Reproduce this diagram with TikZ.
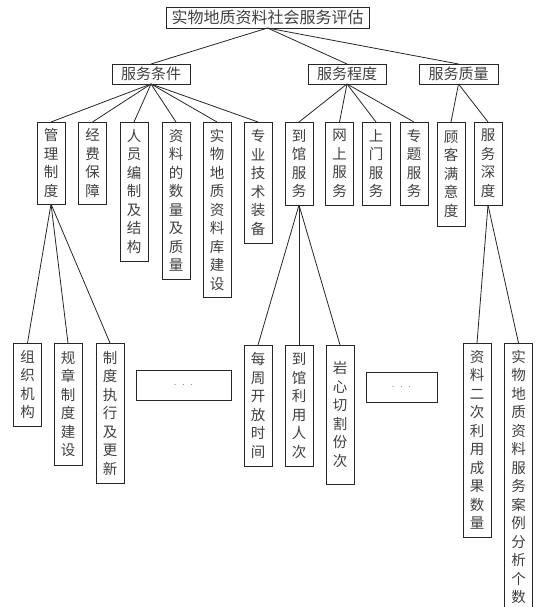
\documentclass[tikz,border=0pt]{standalone}
\usepackage{fontspec}
\newfontfamily\cjk{Noto Sans CJK SC}
\begin{document}
\begin{tikzpicture}[x=1pt,y=-1pt,
  every node/.style={inner sep=0pt,outer sep=0pt},
  hbox/.style={draw=black!85,line width=0.9pt,anchor=north,minimum height=20pt,
    text=black!75,font=\cjk\fontsize{15}{17}\selectfont},
  vbox/.style={draw=black!85,line width=0.9pt,anchor=north,minimum width=28pt,
    text=black!75,align=center,font=\cjk\fontsize{14.5}{18.5}\selectfont},
  dbox/.style={draw=black!85,line width=0.9pt,anchor=north,minimum height=30pt,
    text=black!60,font=\fontsize{10}{11}\selectfont},
  link/.style={draw=black!85,line width=0.8pt}]
\useasboundingbox (0,0) rectangle (536,607);
% level 1
\node[hbox,minimum width=203pt,minimum height=21pt,font=\cjk\fontsize{16}{18}\selectfont] (root) at (267.5,7) {实物地质资料社会服务评估};
% level 2
\node[hbox,minimum width=78pt] (tc1) at (151,64) {服务条件};
\node[hbox,minimum width=78pt] (tc2) at (347,64) {服务程度};
\node[hbox,minimum width=79pt] (tc3) at (458.5,64) {服务质量};
% level 3
\node[vbox,minimum height=82pt] (a1) at (51,122) {管\\理\\制\\度};
\node[vbox,minimum height=82pt] (a2) at (92.5,122) {经\\费\\保\\障};
\node[vbox,minimum height=139pt] (a3) at (134,122) {人\\员\\编\\制\\及\\结\\构};
\node[vbox,minimum height=157pt] (a4) at (176,122) {资\\料\\的\\数\\量\\及\\质\\量};
\node[vbox,minimum height=175pt] (a5) at (217,122) {实\\物\\地\\质\\资\\料\\库\\建\\设};
\node[vbox,minimum height=121pt] (a6) at (258,122) {专\\业\\技\\术\\装\\备};
\node[vbox,minimum height=83pt] (b1) at (299,122) {到\\馆\\服\\务};
\node[vbox,minimum height=83pt] (b2) at (339.5,122) {网\\上\\服\\务};
\node[vbox,minimum height=83pt] (b3) at (376,122) {上\\门\\服\\务};
\node[vbox,minimum height=83pt] (b4) at (414,122) {专\\题\\服\\务};
\node[vbox,minimum height=104pt] (c1) at (451,122) {顾\\客\\满\\意\\度};
\node[vbox,minimum height=83pt] (c2) at (488,122) {服\\务\\深\\度};
% level 4
\node[vbox,minimum height=83pt] (d1) at (27.5,343) {组\\织\\机\\构};
\node[vbox,minimum height=122pt] (d2) at (68,343) {规\\章\\制\\度\\建\\设};
\node[vbox,minimum height=140pt] (d3) at (110,343) {制\\度\\执\\行\\及\\更\\新};
\node[dbox,minimum width=95pt] (dots1) at (183.5,370) {$\cdot\ \cdot\ \cdot$};
\node[vbox,minimum height=121pt] (e1) at (258,345) {每\\周\\开\\放\\时\\间};
\node[vbox,minimum height=121pt] (e2) at (299,345) {到\\馆\\利\\用\\人\\次};
\node[vbox,minimum height=139pt] (e3) at (340,345) {岩\\心\\切\\割\\份\\次};
\node[dbox,minimum width=71pt] (dots2) at (401.5,372) {$\cdot\ \cdot\ \cdot$};
\node[vbox,minimum height=194pt] (f1) at (477,343) {资\\料\\二\\次\\利\\用\\成\\果\\数\\量};
\node[vbox,minimum height=268pt] (f2) at (518.5,343) {实\\物\\地\\质\\资\\料\\服\\务\\案\\例\\分\\析\\个\\数};
% connectors
\foreach \c in {tc1,tc2,tc3} \draw[link] (root.south) -- (\c.north);
\foreach \c in {a1,a2,a3,a4,a5,a6} \draw[link] (tc1.south) -- (\c.north);
\foreach \c in {b1,b2,b3,b4} \draw[link] (tc2.south) -- (\c.north);
\foreach \c in {c1,c2} \draw[link] (tc3.south) -- (\c.north);
\foreach \c in {d1,d2,d3} \draw[link] (a1.south) -- (\c.north);
\foreach \c in {e1,e2,e3} \draw[link] (b1.south) -- (\c.north);
\foreach \c in {f1,f2} \draw[link] (c2.south) -- (\c.north);
\end{tikzpicture}
\end{document}
